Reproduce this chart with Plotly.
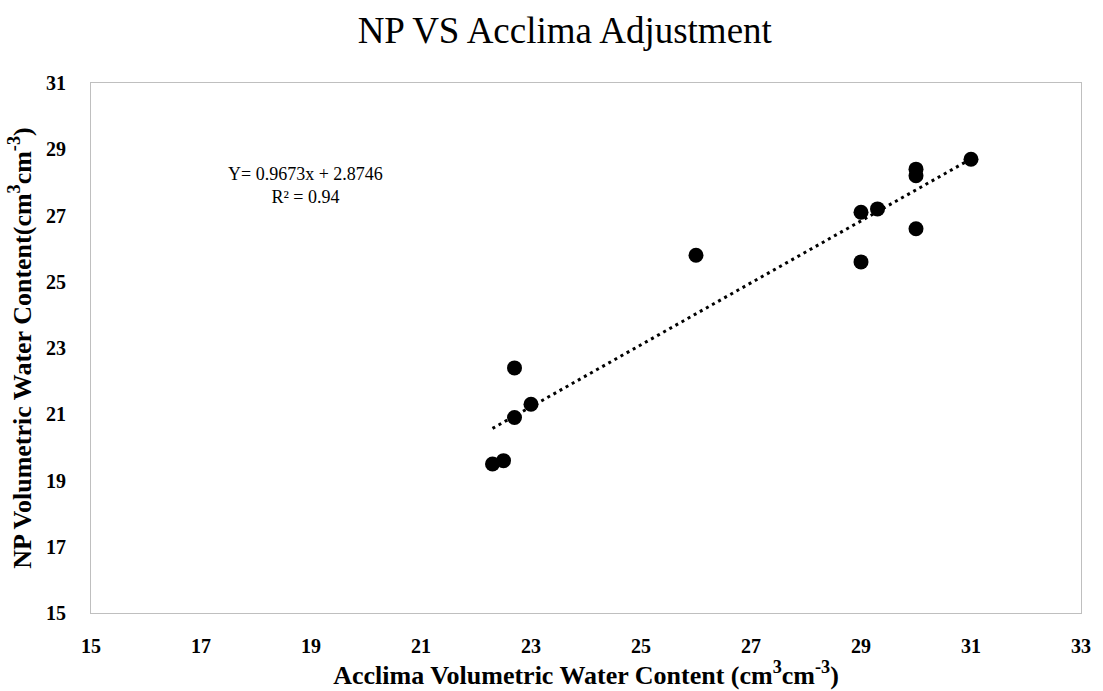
import numpy as np
import plotly.graph_objects as go

# Data
acclima = [22.3, 22.5, 22.7, 22.7, 23.0, 26.0, 29.0, 29.0, 29.3, 30.0, 30.0, 30.0, 31.0]
np_vwc = [19.5, 19.6, 22.4, 20.9, 21.3, 25.8, 27.1, 25.6, 27.2, 28.4, 28.2, 26.6, 28.7]
tick_vals = [15, 17, 19, 21, 23, 25, 27, 29, 31, 33]
y_tick_vals = [15, 17, 19, 21, 23, 25, 27, 29, 31]
equation_text = "Y= 0.9673x + 2.8746<br>R² = 0.94"

# Linear trend line fitted to the data
slope, intercept = np.polyfit(acclima, np_vwc, 1)
x_fit = np.array([min(acclima), max(acclima)])
y_fit = slope * x_fit + intercept

serif = "Liberation Serif, Times New Roman, serif"

fig = go.Figure()
fig.add_trace(go.Scatter(
    x=acclima, y=np_vwc, mode="markers",
    marker=dict(color="black", size=15),
    showlegend=False, hoverinfo="x+y"))
fig.add_trace(go.Scatter(
    x=x_fit, y=y_fit, mode="lines",
    line=dict(color="black", width=3, dash="3px,4px"),
    showlegend=False, hoverinfo="skip"))

fig.add_annotation(
    x=18.9, y=27.92, xref="x", yref="y",
    text=equation_text, showarrow=False, align="center",
    font=dict(family=serif, size=18, color="black"))

fig.update_layout(
    width=1103, height=691,
    margin=dict(l=91, r=15, t=83, b=78),
    paper_bgcolor="white", plot_bgcolor="white",
    title=dict(text="NP VS Acclima Adjustment", x=0.512, xanchor="center",
               y=0.957, yanchor="middle",
               font=dict(family=serif, size=37, color="black")),
    xaxis=dict(range=[15, 33], tickvals=tick_vals, showgrid=False, zeroline=False,
               showline=True, mirror=True, linecolor="#bfbfbf", linewidth=1,
               ticks="", ticklabelstandoff=15,
               tickfont=dict(family=serif, size=20, color="black", weight="bold"),
               title=dict(text="<b>Acclima Volumetric Water Content (cm<sup>3</sup>cm<sup>-3</sup>)</b>",
                          font=dict(family=serif, size=26, color="black"), standoff=1)),
    yaxis=dict(range=[15, 31], tickvals=y_tick_vals, showgrid=False, zeroline=False,
               showline=True, mirror=True, linecolor="#bfbfbf", linewidth=1,
               ticks="", ticklabelstandoff=20,
               tickfont=dict(family=serif, size=20, color="black", weight="bold"),
               title=dict(text="<b>NP Volumetric Water Content(cm<sup>3</sup>cm<sup>-3</sup>)</b>",
                          font=dict(family=serif, size=26, color="black"), standoff=6)),
)

fig.write_html("out.html")
